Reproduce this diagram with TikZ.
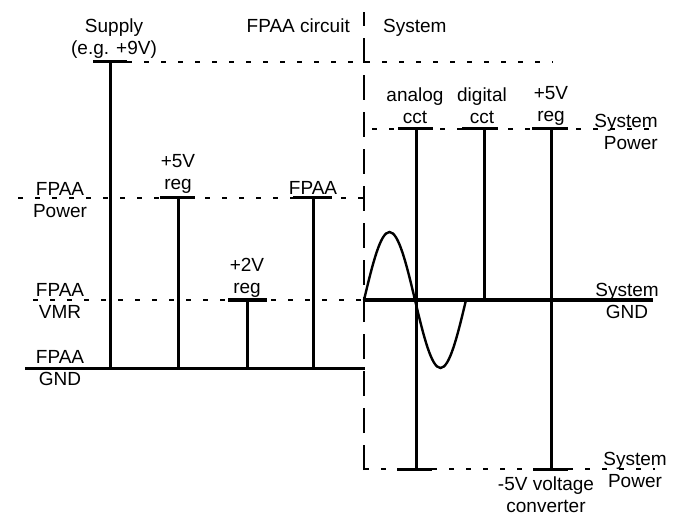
\documentclass[tikz,border=0pt]{standalone}
\usepackage{fontspec}
\setmainfont{Liberation Sans}
\usepackage{tikz}
\usetikzlibrary{positioning}

\begin{document}
\begin{tikzpicture}[x=1pt, y=-1pt,
  lbl/.style={font=\fontsize{19}{22}\selectfont, align=center, inner sep=0pt, anchor=base},
  bus/.style={line width=3pt},
  tap/.style={line width=3pt},
  rail/.style={line width=2.6pt, dash pattern=on 4.5pt off 12.5pt},
  border/.style={line width=2.6pt, dash pattern=on 25pt off 12pt},
  wave/.style={line width=2.4pt}
]
\useasboundingbox (0,0) rectangle (681,516);

% FPAA side
\coordinate (sup) at (110,62);
\coordinate (supE) at (553,62);
\coordinate (pwrL) at (18,198);
\coordinate (pwrR) at (364,198);
\coordinate (vmrL) at (33,300);
\coordinate (vmrR) at (364,300);
\coordinate (gndL) at (25,368);
\coordinate (gndR) at (365,368);
\coordinate (reg5) at (178,198);
\coordinate (fpaa) at (313,198);
\coordinate (reg2) at (247,300);

% system side
\coordinate (divT) at (364,12);
\coordinate (divB) at (364,470);
\coordinate (spwrL) at (372,129);
\coordinate (spwrR) at (655,129);
\coordinate (sgndL) at (364,300);
\coordinate (sgndR) at (653,300);
\coordinate (snegL) at (364,469);
\coordinate (snegR) at (655,469);
\coordinate (ana) at (416,129);
\coordinate (dig) at (484,129);
\coordinate (sreg5) at (551,129);

% labels (anchor = baseline of last line)
\node[lbl] (supply) at (114,55) {Supply\\(e.g. +9V)};
\node[lbl, anchor=base east] (fpaacct) at (350,33) {FPAA circuit};
\node[lbl, anchor=base west] (system) at (383,33) {System};
\node[lbl] (fpaapwr) at (60,218) {FPAA\\Power};
\node[lbl] (reg5lbl) at (178,190) {+5V\\reg};
\node[lbl] (fpaalbl) at (313,195) {FPAA};
\node[lbl] (reg2lbl) at (247,294) {+2V\\reg};
\node[lbl] (fpaavmr) at (60,319) {FPAA\\VMR};
\node[lbl] (fpaagnd) at (60,385) {FPAA\\GND};
\node[lbl] (analbl) at (415,124) {analog\\cct};
\node[lbl] (diglbl) at (482,124) {digital\\cct};
\node[lbl] (sreg5lbl) at (551,122) {+5V\\reg};
\node[lbl, align=right, anchor=base east] (syspwr) at (658,150) {System\\Power};
\node[lbl] (sysgnd) at (627,319) {System\\GND};
\node[lbl] (sysneg) at (635,487) {System\\Power};
\node[lbl] (negconv) at (546,512) {-5V voltage\\converter};

% rails
\draw[rail] (sup) -- (supE);
\draw[rail] (pwrL) -- (pwrR);
\draw[rail] (vmrL) -- (vmrR);
\draw[bus] (gndL) -- (gndR);
\draw[rail] (spwrL) -- (spwrR);
\draw[bus] (sgndL) -- (sgndR);
\draw[rail] (snegL) -- (snegR);
\draw[border] (divB) -- (divT);

% ticks
\draw[bus] ([xshift=-17pt]sup) -- ([xshift=17pt]sup);
\draw[bus] ([xshift=-18pt]reg5) -- ([xshift=17pt]reg5);
\draw[bus] ([xshift=-20pt]fpaa) -- ([xshift=19pt]fpaa);
\draw[bus] ([xshift=-19pt]reg2) -- ([xshift=20pt]reg2);
\draw[bus] ([xshift=-18pt]ana) -- ([xshift=17pt]ana);
\draw[bus] ([xshift=-22pt]dig) -- ([xshift=14pt]dig);
\draw[bus] ([xshift=-19pt]sreg5) -- ([xshift=17pt]sreg5);
\draw[bus] ([xshift=-19pt]ana |- snegL) -- ([xshift=16pt]ana |- snegL);
\draw[bus] ([xshift=-18pt]sreg5 |- snegL) -- ([xshift=17pt]sreg5 |- snegL);

% taps
\draw[tap] (sup) -- (sup |- gndL);
\draw[tap] (reg5) -- (reg5 |- gndL);
\draw[tap] (fpaa) -- (fpaa |- gndL);
\draw[tap] (reg2) -- (reg2 |- gndL);
\draw[tap] (ana) -- (ana |- snegL);
\draw[tap] (dig) -- (dig |- sgndL);
\draw[tap] (sreg5) -- (sreg5 |- snegL);

% signal
\draw[wave] (sgndL) sin ++(25.5,-68) cos ++(25.5,68) sin ++(25.5,68) cos ++(25.5,-68);

\end{tikzpicture}
\end{document}
